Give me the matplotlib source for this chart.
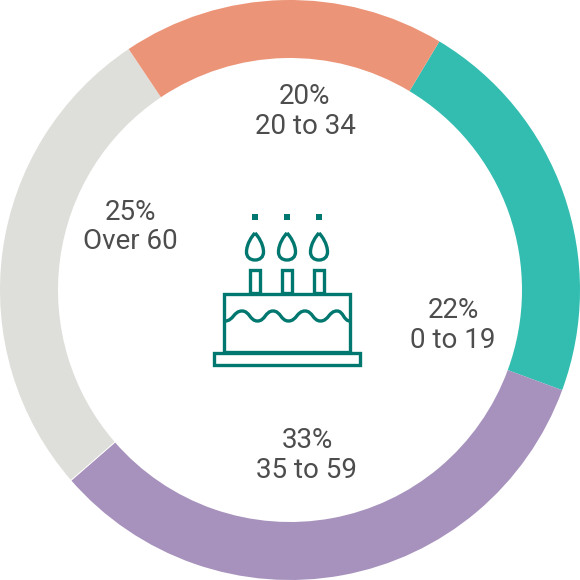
import matplotlib
matplotlib.use('Agg')
import matplotlib.pyplot as plt
import numpy as np
from matplotlib.patches import PathPatch, Rectangle
from matplotlib.path import Path

# group order clockwise from the orange/teal boundary
groups = ['0 to 19', '35 to 59', 'Over 60', '20 to 34']
labels = ['22%', '33%', '25%', '20%']
# arc sizes as drawn, they do not quite follow the printed labels
arc_sizes = [22, 33, 27, 18]
colors = ['#32bdb0', '#a792bd', '#dededa', '#ec9478']

label_x = [453, 307, 130, 305]
label_y = [325.5, 455.5, 227, 111.5]

candle_x = [255, 287, 319]
wave_x = [225, 242, 257.5, 273, 288.5, 305, 320.5, 337, 350]
wave_y = [321, 311, 321, 311, 321, 311, 321, 311, 321]

icon = '#00776f'
text_color = '#4d4d4d'
plt.rcParams['font.family'] = ['Roboto', 'DejaVu Sans']

fig = plt.figure(figsize=(5.8, 5.8), dpi=100)
ax = fig.add_axes([0, 0, 1, 1])

# y axis runs downward so everything below is in picture pixels
ax.pie(arc_sizes, colors=colors, startangle=90 - 31, counterclock=False,
       radius=290, center=(290, 290), frame=True,
       wedgeprops=dict(width=58, linewidth=0))
ax.set_xlim(0, 580)
ax.set_ylim(580, 0)
ax.set_aspect('equal')
ax.axis('off')

# pie was laid out with y up, so mirror it back by re-reading the angles
for w in ax.patches:
    t1, t2 = w.theta1, w.theta2
    w.set(theta1=-t2, theta2=-t1)

# thin light seam between the purple and grey arcs
seam = np.radians(31 + (arc_sizes[0] + arc_sizes[1]) * 3.6)
ax.plot([290 + 232 * np.sin(seam), 290 + 290 * np.sin(seam)],
        [290 - 232 * np.cos(seam), 290 - 290 * np.cos(seam)],
        color='white', lw=0.7)

for x, y, pct, name in zip(label_x, label_y, labels, groups):
    ax.text(x, y, pct + '\n' + name, ha='center', va='center', fontsize=20,
            color=text_color, linespacing=1.14)

lw = 2.4


def box(x0, y0, x1, y1):
    ax.add_patch(Rectangle((x0, y0), x1 - x0, y1 - y0, fill=False, ec=icon,
                           lw=lw, joinstyle='miter'))


for cx in candle_x:
    ax.add_patch(Rectangle((cx - 3, 214), 6, 6, fc=icon, ec='none'))
    box(cx - 5, 269.5, cx + 5, 293)
    verts = [(cx, 233), (cx - 3, 236), (cx - 8.5, 244), (cx - 8.5, 252),
             (cx - 8.5, 257), (cx - 5, 260), (cx, 260),
             (cx + 5, 260), (cx + 8.5, 257), (cx + 8.5, 252),
             (cx + 8.5, 244), (cx + 3, 236), (cx, 233)]
    codes = [Path.MOVETO] + [Path.CURVE4] * 12
    ax.add_patch(PathPatch(Path(verts, codes), fill=False, ec=icon, lw=lw))

box(224, 293.5, 350, 352)
box(213.5, 352.5, 360, 365)

# wave through its peaks and troughs, flat tangent at each one
verts = [(wave_x[0], wave_y[0])]
codes = [Path.MOVETO]
for i in range(len(wave_x) - 1):
    mid = (wave_x[i] + wave_x[i + 1]) / 2
    verts += [(mid, wave_y[i]), (mid, wave_y[i + 1]), (wave_x[i + 1], wave_y[i + 1])]
    codes += [Path.CURVE4] * 3
ax.add_patch(PathPatch(Path(verts, codes), fill=False, ec=icon, lw=lw))

fig.savefig('out.png', dpi=100, facecolor='white')
